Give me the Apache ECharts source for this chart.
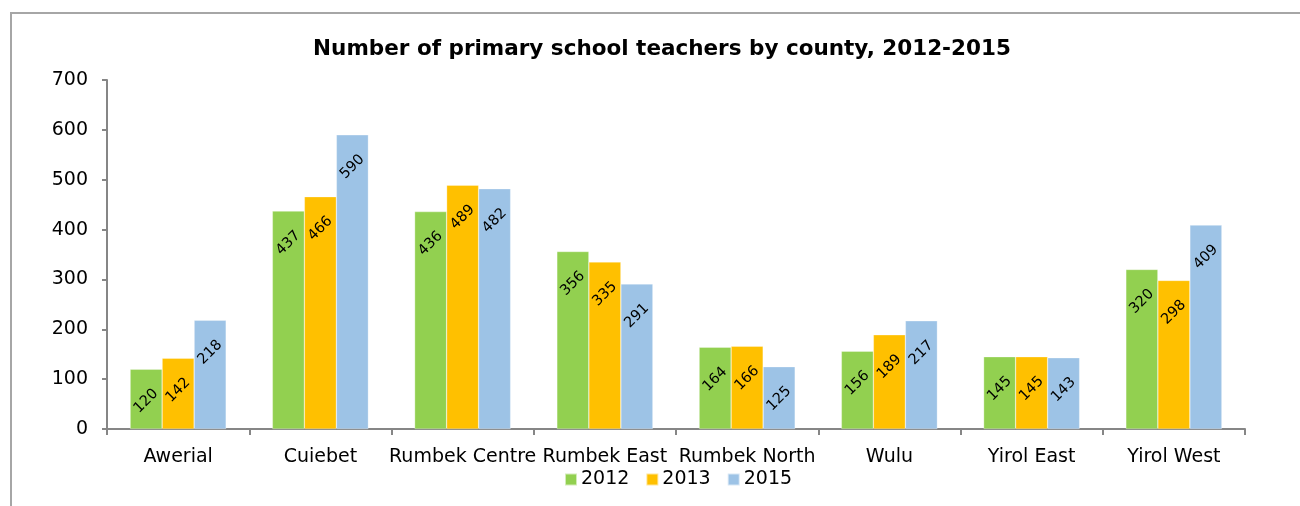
<!DOCTYPE html>
<html>
<head>
<meta charset="utf-8">
<script src="https://cdn.jsdelivr.net/npm/echarts@6/dist/echarts.min.js"></script>
<style>
  html, body { margin: 0; padding: 0; background: #ffffff; }
  #chart { width: 1300px; height: 506px; }
</style>
</head>
<body>
<div id="chart"></div>
<script>
// Counties and teacher counts per year
const counties = ['Awerial', 'Cuiebet', 'Rumbek Centre', 'Rumbek East', 'Rumbek North', 'Wulu', 'Yirol East', 'Yirol West'];
const years = ['2012', '2013', '2015'];
const teachers2012 = [120, 437, 436, 356, 164, 156, 145, 320];
const teachers2013 = [142, 466, 489, 335, 166, 189, 145, 298];
const teachers2015 = [218, 590, 482, 291, 125, 217, 143, 409];
const yTicks = [0, 100, 200, 300, 400, 500, 600, 700];

const colors = ['#92D050', '#FFC000', '#9DC3E6'];
const font = 'DejaVu Sans, Verdana, sans-serif';

const chart = echarts.init(document.getElementById('chart'), null, { renderer: 'canvas' });

function barSeries(name, data, color) {
  return {
    name: name,
    type: 'bar',
    data: data,
    barGap: '0%',
    barCategoryGap: '32.5%',
    itemStyle: { color: color, borderColor: 'rgba(255,255,255,0.6)', borderWidth: 0.5 },
    label: {
      show: true,
      position: 'insideTop',
      distance: 32,
      rotate: 45,
      align: 'center',
      verticalAlign: 'middle',
      color: '#000',
      fontFamily: font,
      fontSize: 14.5
    },
    emphasis: { disabled: true }
  };
}

chart.setOption({
  animation: false,
  color: colors,
  title: {
    text: 'Number of primary school teachers by county, 2012-2015',
    left: 657,
    textAlign: 'center',
    top: 33,
    textStyle: { fontFamily: font, fontWeight: 'bold', fontSize: 21.5, color: '#000' }
  },
  legend: {
    data: years,
    left: 559,
    top: 465,
    itemWidth: 12,
    itemHeight: 12,
    itemGap: 16,
    icon: 'rect',
    textStyle: { fontFamily: font, fontSize: 19, color: '#000', padding: [0, 0, 0, -1] }
  },
  grid: { left: 107, right: 55, top: 80, bottom: 77, containLabel: false },
  xAxis: {
    type: 'category',
    data: counties,
    axisLine: { lineStyle: { color: '#868686', width: 2 } },
    axisTick: { show: true, length: 6, alignWithLabel: false, lineStyle: { color: '#868686', width: 2 } },
    axisLabel: { fontFamily: font, fontSize: 19, color: '#000', margin: 19, interval: 0 },
    splitLine: { show: false }
  },
  yAxis: {
    type: 'value',
    min: yTicks[0],
    max: yTicks[yTicks.length - 1],
    interval: 100,
    axisLine: { show: true, lineStyle: { color: '#868686', width: 2 } },
    axisTick: { show: true, length: 5, lineStyle: { color: '#868686', width: 2 } },
    axisLabel: { fontFamily: font, fontSize: 19, color: '#000', margin: 19 },
    splitLine: { show: false }
  },
  graphic: [{
    type: 'rect',
    shape: { x: 11, y: 13, width: 1320, height: 520 },
    style: { fill: 'none', stroke: '#A6A6A6', lineWidth: 2 },
    silent: true
  }],
  series: [
    barSeries(years[0], teachers2012, colors[0]),
    barSeries(years[1], teachers2013, colors[1]),
    barSeries(years[2], teachers2015, colors[2])
  ]
});
</script>
</body>
</html>
